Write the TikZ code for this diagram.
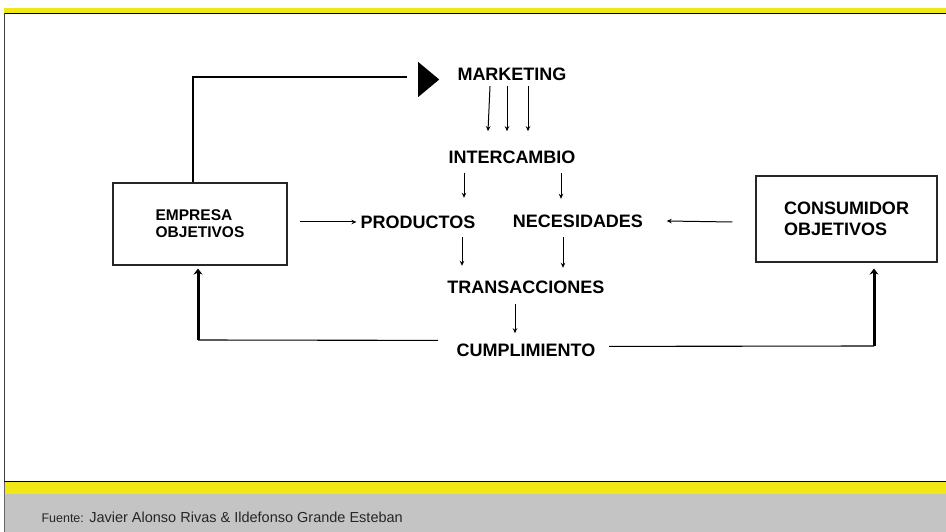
\documentclass[tikz,border=0pt]{standalone}
\usepackage{fontspec}
\setmainfont{Liberation Sans}
\usetikzlibrary{arrows.meta,positioning,calc,shapes.geometric}
\definecolor{bandyellow}{RGB}{240,232,22}
\definecolor{footgray}{RGB}{195,196,195}

\begin{document}
\begin{tikzpicture}[x=1pt,y=-1pt,
	lbl/.style={font=\fontsize{18}{21}\selectfont\bfseries, inner sep=0pt, text height=13pt, text depth=0pt},
	box/.style={draw=black!85, line width=1.1pt, font=\fontsize{15.5}{17}\selectfont\bfseries, align=left},
	arr/.style={line width=1pt, -{Stealth[length=5pt,width=4.5pt]}},
	fb/.style={line width=1.1pt},
	fbup/.style={line width=3pt, -{Stealth[length=6pt,width=9pt]}}]
	\useasboundingbox (0,0) rectangle (946,532);
	\fill[bandyellow] (4,8.5) rectangle (946,13);
	\draw[line width=1pt] (4,13.5) -- (946,13.5);
	\draw[black!75, line width=1pt] (4.5,13) -- (4.5,481);
	\draw[line width=1pt] (4,481.5) -- (946,481.5);
	\fill[bandyellow] (4,482) rectangle (946,494);
	\fill[footgray] (4,494) rectangle (946,532);
	\draw[black!60] (4.5,482) -- (4.5,532);

	\node[lbl] (mkt) at (512,74.5) {MARKETING};
	\node[lbl, below=69pt of mkt] (inter) {INTERCAMBIO};
	\node[lbl] (prod) at (418,222) {PRODUCTOS};
	\node[lbl] (nec) at (578,221) {NECESIDADES};
	\node[lbl] (trans) at (526,287) {TRANSACCIONES};
	\node[lbl, below=50pt of trans] (cump) {CUMPLIMIENTO};
	\node[box, minimum width=174pt, minimum height=82pt] (emp) at (200,224) {EMPRESA\\OBJETIVOS};
	\node[box, font=\fontsize{18}{21}\selectfont\bfseries, minimum width=181pt, minimum height=86pt] (cons) at (846.5,219) {CONSUMIDOR\\OBJETIVOS};
	\node[fill, isosceles triangle, isosceles triangle stretches, minimum width=35pt, minimum height=21pt, inner sep=0pt, anchor=west] (tri) at (418,79.5) {};
	\node[anchor=base west, font=\fontsize{14.5}{17}\selectfont, text=black!85] (src) at (38,522) {{\fontsize{12.5}{15}\selectfont Fuente:} Javier Alonso Rivas \& Ildefonso Grande Esteban};

	\draw[fb] ([xshift=-7pt]emp.north) |- ($(tri.west)+(-11,-2.5)$);
	\draw[arr] ($(mkt.south)+(-22,5)$) -- ($(inter.north)+(-24,-19)$);
	\draw[arr] ($(mkt.south)+(-5,5)$) -- ($(inter.north)+(-5,-19)$);
	\draw[arr] ($(mkt.south)+(16,5)$) -- ($(inter.north)+(16,-19)$);
	\draw[arr] ($(inter.south)+(-48,9)$) -- ($(prod.north)+(46,-17.5)$);
	\draw[arr] ($(inter.south)+(49,9)$) -- ($(nec.north)+(-17,-15.5)$);
	\draw[arr] ($(emp.east)+(12.5,-2)$) -- ($(prod.west)+(-4,0)$);
	\draw[arr] ($(cons.west)+(-23,3)$) -- ($(nec.east)+(23.5,0)$);
	\draw[arr] ($(prod.south)+(44,8.5)$) -- ($(trans.north)+(-64,-14.5)$);
	\draw[arr] ($(nec.south)+(-15,9.5)$) -- ($(trans.north)+(37,-12.5)$);
	\draw[arr] ($(trans.south)+(-11,10.5)$) -- ($(cump.north)+(-11,-10.5)$);

	\coordinate (lc) at (198,340);
	\coordinate (rc) at (874,346);
	\draw[fb] ($(cump.west)+(-18.5,-10)$) -- (lc);
	\draw[fbup] (lc) -- ($(emp.south)+(-2,3)$);
	\draw[fb] ($(cump.east)+(13.5,-4)$) -- (rc);
	\draw[fbup] (rc) -- ($(cons.south)+(27.5,6)$);
\end{tikzpicture}
\end{document}
